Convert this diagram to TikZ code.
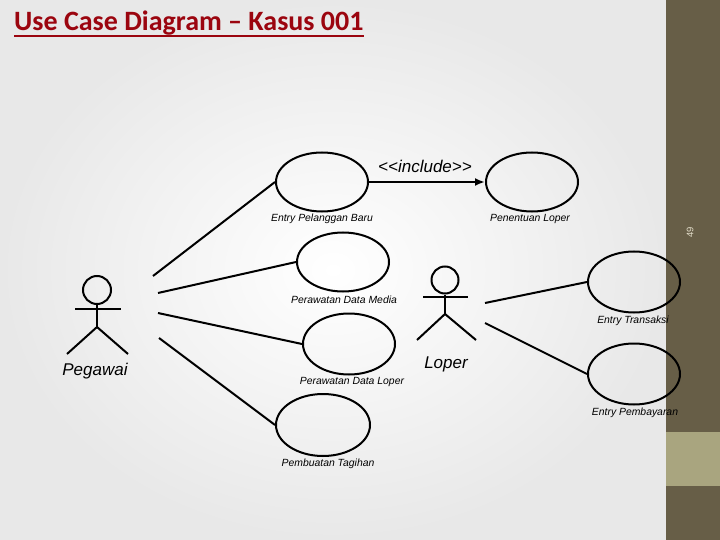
\documentclass[tikz,border=0pt]{standalone}
\usepackage{fontspec}
\setmainfont{Liberation Sans}
\newfontfamily\titlefont{Carlito}
\usetikzlibrary{arrows.meta,shapes.geometric}
\definecolor{titlered}{RGB}{155,5,15}
\definecolor{bardark}{RGB}{103,94,71}
\definecolor{barlight}{RGB}{169,165,127}
\definecolor{pagenum}{RGB}{225,220,200}
\definecolor{bgedge}{RGB}{232,232,232}
\begin{document}
\begin{tikzpicture}[x=1pt,y=-1pt,
  uc/.style={draw, line width=2pt, ellipse, inner sep=0pt, minimum width=92pt, minimum height=59pt},
  uclabel/.style={font=\itshape\fontsize{10.4}{12}\selectfont, inner sep=0pt},
  actorlabel/.style={font=\itshape\fontsize{17}{19}\selectfont, inner sep=0pt},
  assoc/.style={line width=2pt},
  actorline/.style={line width=2pt},
  head/.style={draw, circle, line width=2pt, inner sep=0pt, minimum size=28pt}]
\useasboundingbox (0,0) rectangle (720,540);
% background
\shade[inner color=white, outer color=bgedge] (0,0) rectangle (666,540);
\fill[bardark] (666,0) rectangle (720,540);
\fill[barlight] (666,432) rectangle (720,486);
\node[rotate=90, text=pagenum, font=\fontsize{9.5}{10}\selectfont, inner sep=0pt] (pnum) at (690,232) {49};
% title
\node[anchor=base west, inner sep=0pt, text=titlered, font=\titlefont\bfseries\fontsize{28}{30}\selectfont] (title) at (14,31) {Use Case Diagram – Kasus 001};
\draw[titlered, line width=2pt] ([yshift=-5pt]title.base west) -- ([yshift=-5pt]title.base east);
% use cases
\node[uc] (epb) at (322,182) {};
\node[uc] (pl) at (532,182) {};
\node[uc] (pdm) at (343,262) {};
\node[uc, minimum height=61pt] (pdl) at (349,344) {};
\node[uc, minimum height=62pt, minimum width=94pt] (pt) at (323,425) {};
\node[uc, minimum height=61pt] (et) at (634,282) {};
\node[uc, minimum height=61pt] (ep) at (634,374) {};
\node[uclabel] (epbL) at (322,219) {Entry Pelanggan Baru};
\node[uclabel] (plL) at (530,219) {Penentuan Loper};
\node[uclabel] (pdmL) at (344,300) {Perawatan Data Media};
\node[uclabel] (pdlL) at (352,382) {Perawatan Data Loper};
\node[uclabel] (ptL) at (328,464) {Pembuatan Tagihan};
\node[uclabel] (etL) at (633,321) {Entry Transaksi};
\node[uclabel] (epL) at (635,413) {Entry Pembayaran};
% include
\draw[assoc, -{Latex[length=10pt,width=8pt]}] (epb.east) -- (pl.west);
\node[font=\itshape\fontsize{17}{19}\selectfont, inner sep=0pt] (inc) at (425,166) {<{}<include>{}>};
% actor Pegawai
\node[head] (pegH) at (97,290) {};
\coordinate (pegN) at (97,327);
\coordinate (pegAL) at (75,309);
\coordinate (pegAR) at (121,309);
\coordinate (pegLL) at (67,354);
\coordinate (pegLR) at (128,354);
\draw[actorline] (pegH.south) -- (pegN);
\draw[actorline] (pegAL) -- (pegAR);
\draw[actorline] (pegLL) -- (pegN) -- (pegLR);
\node[actorlabel] (pegL) at (95,371) {Pegawai};
% actor Loper
\node[head, minimum size=27pt] (lopH) at (445,280) {};
\coordinate (lopN) at (445,314);
\coordinate (lopAL) at (423,297);
\coordinate (lopAR) at (468,297);
\coordinate (lopLL) at (417,340);
\coordinate (lopLR) at (476,340);
\draw[actorline] (lopH.south) -- (lopN);
\draw[actorline] (lopAL) -- (lopAR);
\draw[actorline] (lopLL) -- (lopN) -- (lopLR);
\node[actorlabel] (lopL) at (446,364) {Loper};
% associations
\coordinate (p1) at (153,276);
\coordinate (p2) at (158,293);
\coordinate (p3) at (158,313);
\coordinate (p4) at (159,338);
\coordinate (l1) at (485,303);
\coordinate (l2) at (485,323);
\draw[assoc] (p1) -- (epb.west);
\draw[assoc] (p2) -- (pdm.west);
\draw[assoc] (p3) -- (pdl.west);
\draw[assoc] (p4) -- (pt.west);
\draw[assoc] (l1) -- (et.west);
\draw[assoc] (l2) -- (ep.west);
\end{tikzpicture}
\end{document}
